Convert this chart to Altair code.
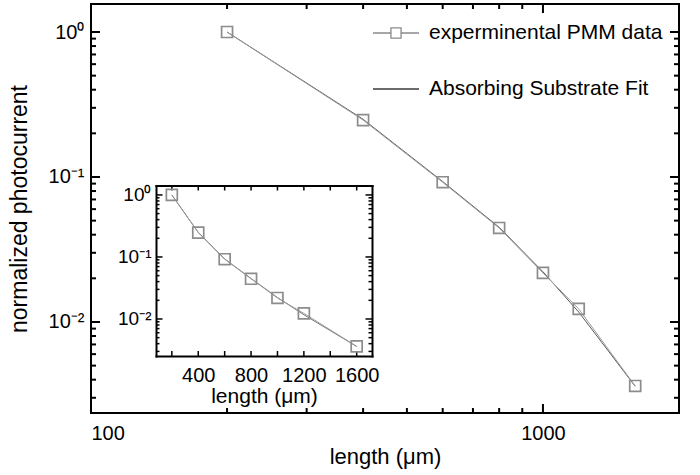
import altair as alt
import pandas as pd

# ---------------- data ----------------
lengths = [200, 400, 600, 800, 1000, 1200, 1600]
pmm_data = [1.0, 0.247, 0.092, 0.0445, 0.0218, 0.0123, 0.00362]
fit_data = [1.0, 0.25, 0.093, 0.045, 0.0222, 0.0117, 0.0036]
series_names = ["experminental PMM data", "Absorbing Substrate Fit"]

main_x_domain = [100, 2000]
main_y_domain = [0.002356, 1.56]
inset_x_domain = [80, 1716]
inset_y_domain = [0.00253, 1.42]

main_x_labels = [100, 1000]
main_x_minor = [200, 300, 400, 500, 600, 700, 800, 900]
y_labels = [0.01, 0.1, 1]
y_minor = [0.003, 0.004, 0.005, 0.006, 0.007, 0.008, 0.009,
           0.02, 0.03, 0.04, 0.05, 0.06, 0.07, 0.08, 0.09,
           0.2, 0.3, 0.4, 0.5, 0.6, 0.7, 0.8, 0.9]
inset_x_labels = [400, 800, 1200, 1600]
inset_x_ticks = [200, 400, 600, 800, 1000, 1200, 1400, 1600]

df = pd.DataFrame({"length": lengths, "pmm": pmm_data, "fit": fit_data})
df_long = pd.DataFrame({
    "length": lengths * 2,
    "value": pmm_data + fit_data,
    "series": [series_names[0]] * len(lengths) + [series_names[1]] * len(lengths),
})

# ---------------- layout ----------------
W, H = 588, 409
IX0, IX1 = 65, 281       # inset horizontal pixel range inside plot
IY0, IY1 = 352, 181.5    # inset vertical pixel range (bottom, top)
FONT = "Liberation Sans"

sup_expr = ("datum.value == 1 ? '10\u2070' : datum.value == 0.1 ? '10\u207b\u00b9' : "
            "datum.value == 0.01 ? '10\u207b\u00b2' : ''")


def mx():
    return alt.Scale(type="log", domain=main_x_domain, nice=False)


def my():
    return alt.Scale(type="log", domain=main_y_domain, nice=False)


def ix():
    return alt.Scale(type="linear", domain=inset_x_domain, range=[IX0, IX1], nice=False, zero=False)


def iy():
    return alt.Scale(type="log", domain=inset_y_domain, range=[IY0, IY1], nice=False)


def xticks(values, scale, edge, length, width):
    """Inward-pointing ticks on a horizontal frame edge; length > 0 points down."""
    return alt.Chart(pd.DataFrame({"v": values})).mark_tick(
        color="black", thickness=width, size=abs(length), opacity=1).encode(
        x=alt.X("v:Q", scale=scale, axis=None),
        y=alt.value(edge + length / 2))


def yticks(values, scale, edge, length, width):
    """Inward-pointing ticks on a vertical frame edge; length > 0 points right."""
    return alt.Chart(pd.DataFrame({"v": values})).mark_tick(
        color="black", thickness=width, size=abs(length), opacity=1).encode(
        y=alt.Y("v:Q", scale=scale, axis=None),
        x=alt.value(edge + length / 2))


# ---------------- main plot ----------------
main_fit = alt.Chart(df).mark_line(color="#5a5a5a", strokeWidth=1).encode(
    x=alt.X("length:Q", scale=mx(), axis=None),
    y=alt.Y("fit:Q", scale=my(), axis=None),
)

main_data = alt.Chart(df).mark_line(color="#9a9a9a", strokeWidth=1).encode(
    x=alt.X("length:Q", scale=mx(),
            axis=alt.Axis(orient="bottom", values=main_x_labels, format="d", ticks=False,
                          domain=False, grid=False, labelFontSize=20, labelPadding=10,
                          title="length (\u03bcm)", titleFontSize=22,
                          titleFontWeight="normal", titlePadding=3)),
    y=alt.Y("pmm:Q", scale=my(),
            axis=alt.Axis(orient="left", values=y_labels, labelExpr=sup_expr, ticks=False,
                          domain=False, grid=False, labelFontSize=20, labelPadding=7,
                          title="normalized photocurrent", titleFontSize=23,
                          titleFontWeight="normal", titlePadding=17)),
)

main_pts = alt.Chart(df).mark_point(shape="square", filled=False, size=120,
                                    strokeWidth=1.7, color="#8c8c8c", opacity=1).encode(
    x=alt.X("length:Q", scale=mx(), axis=None),
    y=alt.Y("pmm:Q", scale=my(), axis=None),
)

main_ticks = [
    xticks(main_x_minor, mx(), H, -5, 2), xticks(main_x_labels, mx(), H, -9, 2),
    xticks(main_x_minor, mx(), 0, 5, 2), xticks(main_x_labels, mx(), 0, 9, 2),
    yticks(y_minor, my(), 0, 5, 2), yticks(y_labels, my(), 0, 9, 2),
    yticks(y_minor, my(), W, -5, 2), yticks(y_labels, my(), W, -9, 2),
]

sym_data = "M-1,0H-0.22M0.22,0H1M-0.22,-0.22H0.22V0.22H-0.22Z"
sym_fit = "M-1,0H1"
leg = alt.Legend(title=None, orient="none", legendX=281, legendY=5, padding=0,
                 symbolSize=2116, symbolStrokeWidth=1.3, labelFontSize=21,
                 labelFont=FONT, labelColor="black", labelOffset=9, rowPadding=22,
                 labelLimit=400)
legend_layer = alt.Chart(df_long).transform_filter("false").mark_point(
    filled=False, opacity=1).encode(
    x=alt.X("length:Q", scale=mx(), axis=None),
    y=alt.Y("value:Q", scale=my(), axis=None),
    color=alt.Color("series:N", scale=alt.Scale(domain=series_names,
                                                range=["#8a8a8a", "#3a3a3a"]), legend=leg),
    shape=alt.Shape("series:N", scale=alt.Scale(domain=series_names,
                                                range=[sym_data, sym_fit]), legend=leg),
)

# ---------------- inset ----------------
frame_axis = dict(domain=True, domainColor="black", domainWidth=2, domainCap="square",
                  grid=False, ticks=False)

inset_fit = alt.Chart(df).mark_line(color="#777777", strokeWidth=1).encode(
    x=alt.X("length:Q", scale=ix(),
            axis=alt.Axis(orient="bottom", offset=IY1 - H, labels=False, title=None,
                          **frame_axis)),
    y=alt.Y("fit:Q", scale=iy(),
            axis=alt.Axis(orient="left", offset=-IX1, labels=False, title=None,
                          **frame_axis)),
)

inset_data = alt.Chart(df).mark_line(color="#9a9a9a", strokeWidth=1).encode(
    x=alt.X("length:Q", scale=ix(),
            axis=alt.Axis(orient="bottom", offset=IY0 - H, values=inset_x_labels,
                          format="d", labelFontSize=20, labelPadding=9,
                          title="length (\u03bcm)", titleFontSize=21,
                          titleFontWeight="normal", titlePadding=0, **frame_axis)),
    y=alt.Y("pmm:Q", scale=iy(),
            axis=alt.Axis(orient="left", offset=-IX0, values=y_labels, labelExpr=sup_expr,
                          labelFontSize=19, labelPadding=5, title=None, **frame_axis)),
)

inset_pts = alt.Chart(df).mark_point(shape="square", filled=False, size=120,
                                     strokeWidth=1.7, color="#8c8c8c", opacity=1).encode(
    x=alt.X("length:Q", scale=ix(), axis=None),
    y=alt.Y("pmm:Q", scale=iy(), axis=None),
)

inset_ticks = [
    xticks(inset_x_ticks, ix(), IY0, -5, 1.5),
    xticks(inset_x_ticks, ix(), IY1, 5, 1.5),
    yticks(y_minor, iy(), IX0, 3.5, 1.5), yticks(y_labels, iy(), IX0, 6.5, 1.5),
    yticks(y_minor, iy(), IX1, -3.5, 1.5), yticks(y_labels, iy(), IX1, -6.5, 1.5),
]

chart = alt.layer(
    *main_ticks, *inset_ticks,
    main_fit, main_data, main_pts, legend_layer,
    inset_fit, inset_data, inset_pts,
).resolve_scale(
    x="independent", y="independent"
).resolve_axis(
    x="independent", y="independent"
).properties(
    width=W, height=H,
    autosize=alt.AutoSizeParams(type="none"),
    padding={"left": 91, "top": 4, "right": 21, "bottom": 62},
    background="white",
).configure(
    font=FONT,
).configure_axis(
    labelColor="black", titleColor="black", labelFont=FONT, titleFont=FONT,
).configure_view(
    stroke="black", strokeWidth=2,
)

chart.save("out.html", embed_options={"renderer": "svg", "actions": False})
